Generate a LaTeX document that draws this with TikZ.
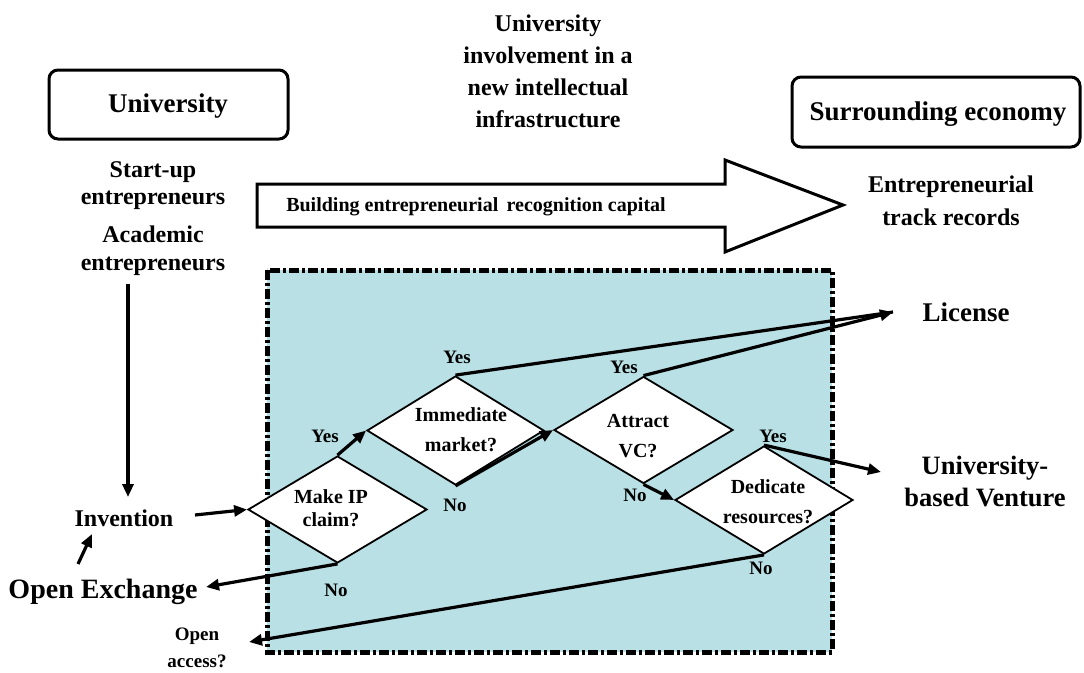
\documentclass[tikz,border=0pt]{standalone}
\usepackage{fontspec}
\setmainfont{Liberation Serif}
\usetikzlibrary{arrows.meta,shapes.geometric,calc}
\definecolor{zonefill}{RGB}{185,224,228}
\begin{document}
\begin{tikzpicture}[x=1pt,y=-1pt,
  txt/.style={font=\bfseries, inner sep=0pt, align=center},
  fs/.style n args={2}{font=\fontsize{#1}{#2}\selectfont\bfseries},
  rbox/.style={draw, line width=3pt, rounded corners=9pt, inner sep=0pt},
  dia/.style={diamond, draw, line width=1.8pt, fill=white, inner sep=0pt},
  conn/.style={line width=3.2pt},
  arr/.style={conn, -{Triangle[length=13pt,width=11pt]}},
  lbl/.style={fs={19}{22}, inner sep=0pt}
]
\useasboundingbox (0,0) rectangle (1084,672);

% headline and the two end boxes
\node[txt, fs={24}{32}] (title) at (548,71) {University\\involvement in a\\new intellectual\\infrastructure};
\node[rbox, minimum width=239pt, minimum height=69pt] (uni) at (168.5,104.5) {};
\node[txt, fs={27}{30}] (unit) at (168,106) {University};
\node[rbox, minimum width=288pt, minimum height=70pt] (econ) at (936,112) {};
\node[txt, fs={27}{30}] (econt) at (938,114) {Surrounding economy};

% actors on the university side
\node[txt, fs={24}{27}] (startup) at (153,186) {Start-up\\entrepreneurs};
\node[txt, fs={24}{28}] (acad) at (153,251) {Academic\\entrepreneurs};
\node[txt, fs={24}{33}] (track) at (951,201) {Entrepreneurial\\track records};

% broad arrow towards the economy
\draw[line width=3pt, fill=white, line join=miter]
  (257,184) -- (725,184) -- (725,160) -- (843,205) -- (725,252) -- (725,227) -- (257,227) -- cycle;
\node[txt, fs={20}{24}] (build) at (476,207) {Building entrepreneurial\, recognition capital};

% decision zone
\draw[fill=zonefill, line width=5pt, dash pattern=on 10pt off 3pt on 3pt off 3pt]
  (267,270) rectangle (832,652);

% decision diamonds
\node[dia, minimum width=179pt, minimum height=107pt] (d1) at (337.5,509.5) {};
\node[dia, minimum width=177pt, minimum height=109pt] (d2) at (455.5,430.5) {};
\node[dia, minimum width=179pt, minimum height=107pt] (d3) at (643.5,430) {};
\node[dia, minimum width=178pt, minimum height=108pt] (d4) at (764,500) {};
\node[txt, fs={20}{23}] (t1) at (331,508) {Make IP\\claim?};
\node[txt, fs={20}{30}] (t2) at (461,430) {Immediate\\market?};
\node[txt, fs={20}{30}] (t3) at (638,436) {Attract\\VC?};
\node[txt, fs={20}{30}] (t4) at (768,502) {Dedicate\\resources?};

% outcomes
\node[txt, fs={24}{28}] (inv) at (124,518) {Invention};
\node[txt, fs={28}{30}] (oe) at (103,592) {Open Exchange};
\node[txt, fs={19}{27}] (oa) at (197,648) {Open\\access?};
\node[txt, fs={27}{30}] (lic) at (966,312) {License};
\node[txt, fs={26.5}{32}] (ubv) at (985,481) {University-\\based Venture};

% free ends of connectors
\coordinate (downA) at (128,284);
\coordinate (downB) at (128,497);
\coordinate (oeA) at (78,564);
\coordinate (oeB) at (92,534);
\coordinate (invR) at (195,515);
\coordinate (licTip) at (893,312);
\coordinate (ubvTip) at (881,472);
\coordinate (oeTip) at (206,587);
\coordinate (oaTip) at (249,642);

% connectors
\draw[arr] (downA) -- (downB);
\draw[arr] (oeA) -- (oeB);
\draw[arr] (invR) -- (d1.west);
\draw[arr] (d1.north) -- (d2.west);
\draw[arr] (d1.south) -- (oeTip);
\draw[conn] (d2.north) -- (licTip);
\draw[arr] (d3.north) -- (licTip);
\draw[arr] (d2.south) -- (d3.west);
\draw[arr] (d3.south) -- (d4.west);
\draw[arr] (d4.north) -- (ubvTip);
\draw[arr] (d4.south) -- (oaTip);

% branch labels
\node[lbl] (y1) at (325,436) {Yes};
\node[lbl] (n1) at (336,590) {No};
\node[lbl] (y2) at (457,357) {Yes};
\node[lbl] (n2) at (455,505) {No};
\node[lbl] (y3) at (624,367) {Yes};
\node[lbl] (n3) at (635,495) {No};
\node[lbl] (y4) at (773,436) {Yes};
\node[lbl] (n4) at (761,568) {No};
\end{tikzpicture}
\end{document}
